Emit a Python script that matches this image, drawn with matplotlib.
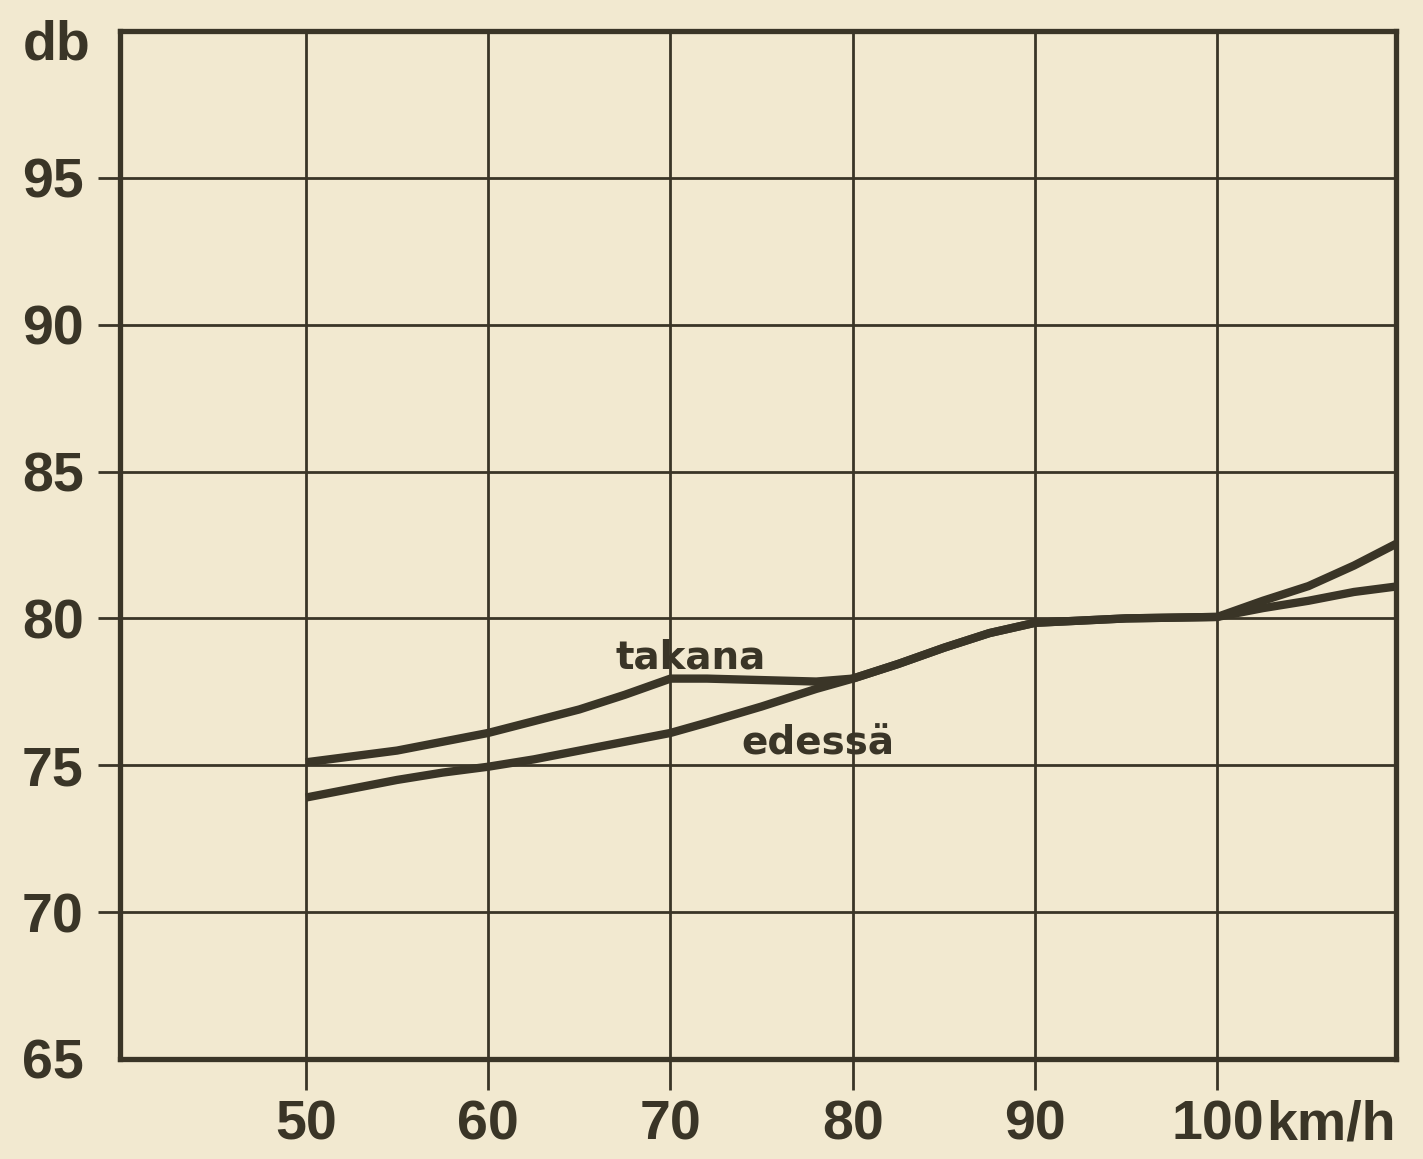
import matplotlib
matplotlib.use('Agg')
from matplotlib import pyplot as plt

# nopeus km/h ja melutaso db (luettu kuvasta)
speed = [50, 52.5, 55, 57.5, 60, 62.5, 65, 67.5, 70, 72, 75, 78, 80, 82.5, 85, 87.5, 90, 95, 100, 102.5, 105, 107.5, 110]
takana = [75.1, 75.3, 75.5, 75.8, 76.1, 76.5, 76.9, 77.4, 77.95, 77.95, 77.9, 77.85, 77.95, 78.45, 79.0, 79.5, 79.85, 80.0, 80.05, 80.6, 81.1, 81.8, 82.6]
edessa = [73.9, 74.2, 74.5, 74.75, 74.95, 75.2, 75.5, 75.8, 76.1, 76.45, 77.0, 77.6, 77.95, 78.45, 79.0, 79.5, 79.85, 80.0, 80.05, 80.35, 80.6, 80.9, 81.1]

x_ticks = [50, 60, 70, 80, 90, 100]
x_labels = ['50', '60', '70', '80', '90', '100']
y_ticks = [65, 70, 75, 80, 85, 90, 95]
y_labels = ['65', '70', '75', '80', '85', '90', '95']

paper = '#f2e9d0'
ink = '#3a3527'
num_font = ['Liberation Sans', 'DejaVu Sans']

fig = plt.figure(figsize=(14.23, 11.59), dpi=100, facecolor=paper)
ax = fig.add_axes([0.0843, 0.0863, 0.8967, 0.887], facecolor=paper)

ax.plot(speed, takana, color=ink, lw=6, solid_capstyle='butt', solid_joinstyle='round', zorder=3)
ax.plot(speed, edessa, color=ink, lw=6, solid_capstyle='butt', solid_joinstyle='round', zorder=3)

ax.set_xlim(39.8, 109.8)
ax.set_ylim(65, 100)

ax.set_xticks(x_ticks)
ax.set_xticklabels(x_labels, family=num_font, weight='bold', fontsize=40, color=ink)
ax.set_yticks(y_ticks)
ax.set_yticklabels(y_labels, family=num_font, weight='bold', fontsize=40, color=ink)
ax.tick_params(axis='x', direction='out', length=22, width=2, color=ink, pad=7)
ax.tick_params(axis='y', direction='out', length=16, width=2, color=ink, pad=10)
ax.yaxis.get_major_ticks()[0].tick1line.set_visible(False)

ax.grid(True, color=ink, lw=2)
ax.set_axisbelow(True)
for s in ax.spines.values():
    s.set_color(ink)
    s.set_linewidth(3.8)

# käyrien nimet
ax.text(67.0, 78.3, 'takana', family='DejaVu Sans', weight='bold', fontsize=28,
        color=ink, ha='left', va='baseline', zorder=4)
ax.text(73.9, 75.35, 'edessä', family='DejaVu Sans', weight='bold', fontsize=28,
        color=ink, ha='left', va='baseline', zorder=4)

# yksiköt
fig.text(0.040, 0.961, 'db', family=num_font, weight='bold', fontsize=40,
         color=ink, ha='center', va='center')
ax.annotate('km/h', xy=(100, 0), xycoords=('data', 'axes fraction'),
            xytext=(35, -29), textcoords='offset points', family=num_font,
            weight='bold', fontsize=40, color=ink, ha='left', va='top')

fig.savefig('out.png', dpi=100, facecolor=paper)
